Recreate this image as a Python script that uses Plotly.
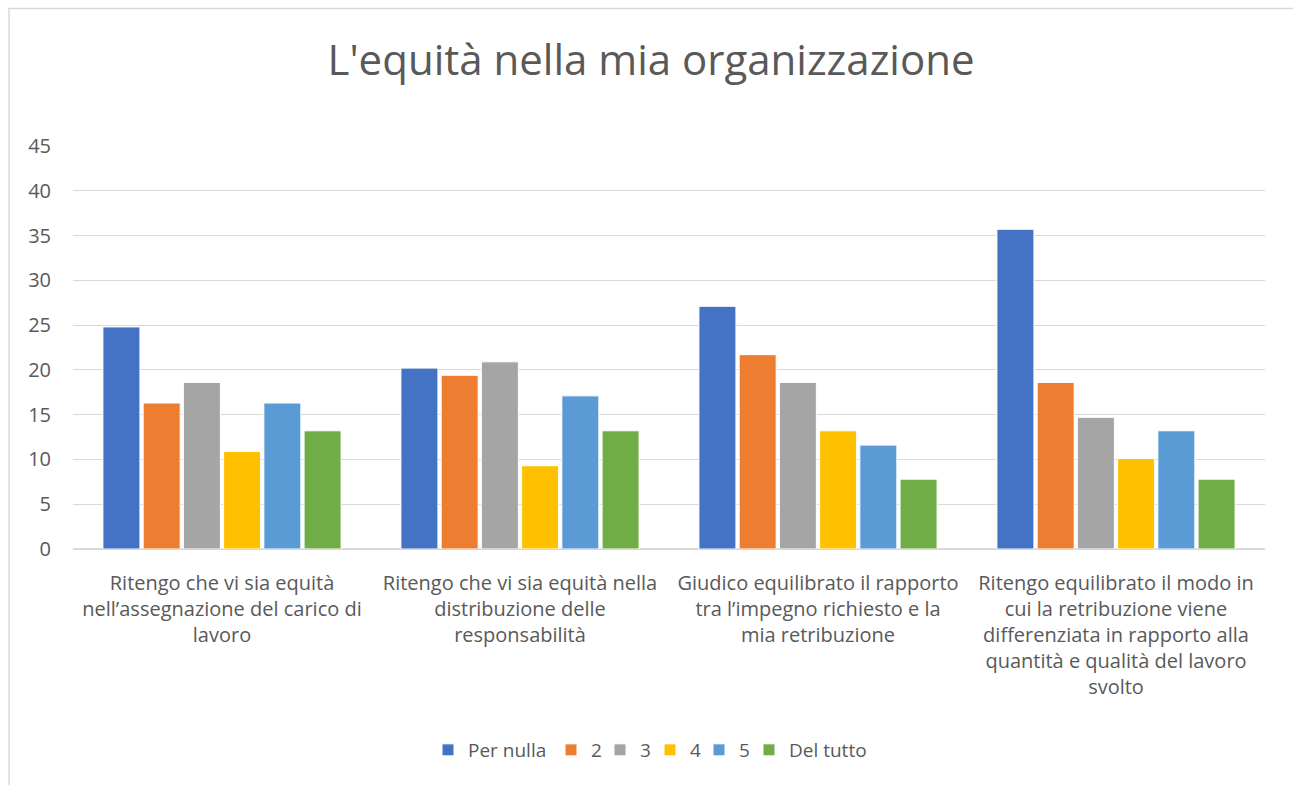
import plotly.graph_objects as go

categories = [
    "Ritengo che vi sia equità<br>nell’assegnazione del carico di<br>lavoro",
    "Ritengo che vi sia equità nella<br>distribuzione delle<br>responsabilità",
    "Giudico equilibrato il rapporto<br>tra l’impegno richiesto e la<br>mia retribuzione",
    "Ritengo equilibrato il modo in<br>cui la retribuzione viene<br>differenziata in rapporto alla<br>quantità e qualità del lavoro<br>svolto",
]
series_names = ["Per nulla", "2", "3", "4", "5", "Del tutto"]
per_nulla = [24.8, 20.2, 27.1, 35.7]
s2 = [16.3, 19.4, 21.7, 18.6]
s3 = [18.6, 20.9, 18.6, 14.7]
s4 = [10.9, 9.3, 13.2, 10.1]
s5 = [16.3, 17.1, 11.6, 13.2]
del_tutto = [13.2, 13.2, 7.8, 7.8]
series_values = [per_nulla, s2, s3, s4, s5, del_tutto]
colors = ["#4472C4", "#ED7D31", "#A5A5A5", "#FFC000", "#5B9BD5", "#70AD47"]
legend_widths = [78, 4, 5, 4, 5, 0]
y_ticks = [0, 5, 10, 15, 20, 25, 30, 35, 40, 45]

FONT = "Open Sans"
TXT = "#595959"

fig = go.Figure()
for name, vals, col, lw in zip(series_names, series_values, colors, legend_widths):
    kw = dict(legendwidth=lw) if lw else {}
    fig.add_trace(go.Bar(
        x=categories, y=vals, name=name,
        marker=dict(color=col, line=dict(color="white", width=1)),
        **kw,
    ))

W, H = 1293, 785
L, R, T, B = 73, 1265, 146, 549
fig.update_layout(
    width=W, height=H,
    margin=dict(l=L, r=W - R, t=T, b=H - B, pad=0),
    paper_bgcolor="white", plot_bgcolor="white",
    barmode="group", bargap=0.19, bargroupgap=0.08,
    font=dict(family=FONT, color=TXT, size=20),
    title=dict(text="L'equità nella mia organizzazione", x=651 / W, xanchor="center",
               xref="container", y=1 - 60 / H, yanchor="middle", yref="container",
               font=dict(family=FONT, size=42, color=TXT)),
    showlegend=True,
    legend=dict(orientation="h", x=(650 - L) / (R - L), xanchor="center",
                y=(B - 750) / (B - T), yanchor="middle",
                font=dict(family=FONT, size=19, color=TXT),
                itemwidth=30, tracegroupgap=0),
    xaxis=dict(showgrid=False, showline=False, ticks="", tickfont=dict(size=20, color=TXT),
               ticklabelstandoff=20, fixedrange=True),
    yaxis=dict(range=[0, 45], tickvals=y_ticks, showgrid=True, gridcolor="#D9D9D9", gridwidth=1,
               zeroline=True, zerolinecolor="#D9D9D9", zerolinewidth=1.5, showline=False,
               ticks="", tickfont=dict(size=20, color=TXT), ticklabelstandoff=21),
)
# chart area border (extends past the right and bottom edges, as in the reference)
fig.add_shape(type="rect", xref="paper", yref="paper",
              x0=(9 - L) / (R - L), x1=(1340 - L) / (R - L),
              y0=(B - 840) / (B - T), y1=(B - 8.5) / (B - T),
              line=dict(color="#D9D9D9", width=1.5), fillcolor="rgba(0,0,0,0)", layer="below")

fig.write_html("out.html", config={"displayModeBar": False},
               post_script="document.body.style.margin='0';document.body.style.overflow='hidden';")
